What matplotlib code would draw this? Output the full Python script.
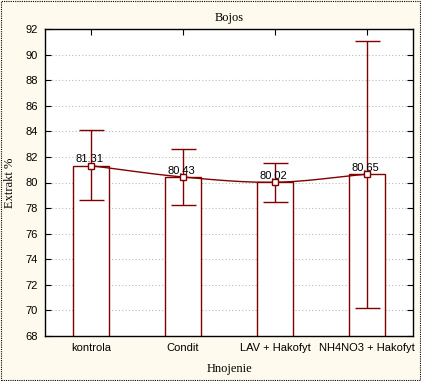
import numpy as np
import matplotlib
matplotlib.use("Agg")
import matplotlib.pyplot as plt
from matplotlib.patches import Rectangle

categories = ["kontrola", "Condit", "LAV + Hakofyt", "NH4NO3 + Hakofyt"]
means = [81.31, 80.43, 80.02, 80.65]
err_low = [78.6, 78.25, 78.5, 70.2]
err_high = [84.1, 82.6, 81.55, 91.1]
yticks = [68, 70, 72, 74, 76, 78, 80, 82, 84, 86, 88, 90, 92]

red = "#800000"
bg = "#FFFAEE"

fig = plt.figure(figsize=(4.21, 3.81), dpi=100, facecolor=bg)
ax = fig.add_axes([45/421, 1-336/381, 368/421, 307/381])
ax.set_facecolor("white")

x = np.arange(len(categories))
ax.bar(x, means, width=0.4, bottom=0, color="white", edgecolor=red, linewidth=1.0, zorder=2)

# smooth connecting curve (Catmull-Rom through means)
pts = np.column_stack([x, means]).astype(float)
P = np.vstack([pts[0] - (pts[1]-pts[0]), pts, pts[-1] + (pts[-1]-pts[-2])])
cx, cy = [], []
for i in range(1, len(P)-2):
    t = np.linspace(0, 1, 30)
    p0, p1, p2, p3 = P[i-1], P[i], P[i+1], P[i+2]
    seg = 0.5*((2*p1)[None, :] + np.outer(t, -p0+p2) + np.outer(t**2, 2*p0-5*p1+4*p2-p3) + np.outer(t**3, -p0+3*p1-3*p2+p3))
    cx.extend(seg[:, 0]); cy.extend(seg[:, 1])
ax.plot(cx, cy, color=red, linewidth=1.0, zorder=3)

yerr = [np.array(means)-np.array(err_low), np.array(err_high)-np.array(means)]
ax.errorbar(x, means, yerr=yerr, fmt="none", ecolor=red, elinewidth=1.0, capsize=9, capthick=1.0, zorder=4)
ax.plot(x, means, "s", mfc="white", mec=red, ms=4, mew=1.0, zorder=5)

for xi, m in zip(x, means):
    ax.annotate(f"{m:.2f}", (xi, m), xytext=(-1, 1), textcoords="offset points",
                ha="center", va="bottom", fontsize=8, family="Liberation Sans", zorder=6)

ax.set_xlim(-0.5, 3.5)
ax.set_ylim(68, 92)
ax.set_yticks(yticks)
ax.set_xticks(x)
ax.set_xticklabels(categories, family="Liberation Sans", fontsize=8)
for lab in ax.get_yticklabels():
    lab.set_family("Liberation Sans"); lab.set_fontsize(8)
ax.tick_params(direction="in", top=True, right=True, length=4, width=0.8, pad=5)
ax.yaxis.grid(True, linestyle=(0, (1, 2)), color="#bbbbbb", linewidth=0.8, zorder=0)
ax.set_axisbelow(True)
for s in ax.spines.values():
    s.set_linewidth(1.0)
    s.set_color("black")

ax.set_title("Bojos", family="Liberation Serif", fontsize=9, pad=6)
ax.set_xlabel("Hnojenie", family="Liberation Serif", fontsize=9, labelpad=7)
ax.set_ylabel("Extrakt %", family="Liberation Serif", fontsize=9, labelpad=7)

fig.patches.append(Rectangle((0.002, 0.002), 0.996, 0.996, transform=fig.transFigure,
                             fill=False, edgecolor="black", linestyle=(0, (1, 1)), linewidth=0.8))

fig.savefig("out.png", dpi=100, facecolor=bg)
